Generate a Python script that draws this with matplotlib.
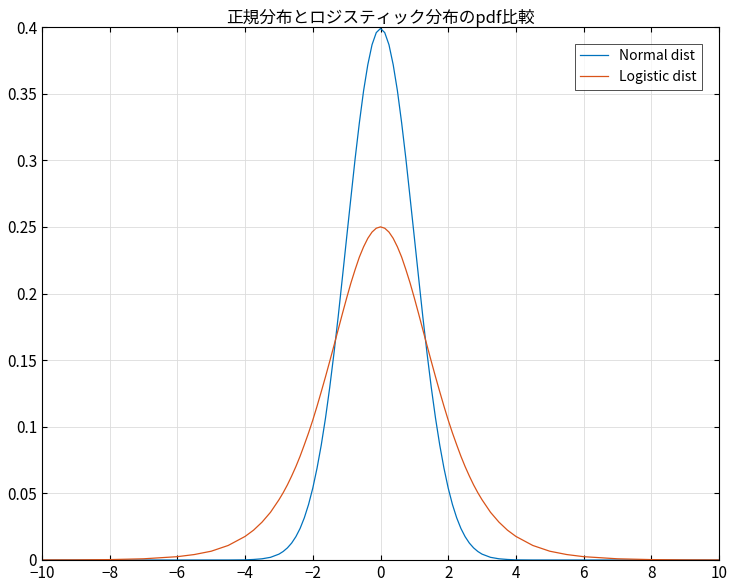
import matplotlib
matplotlib.use("Agg")
import matplotlib.pyplot as plt

plt.rcParams['font.family'] = ['Noto Sans CJK JP', 'DejaVu Sans']

# values (curves are symmetric about 0)
x_half = [0, 0.125, 0.25, 0.375, 0.5, 0.625, 0.75, 0.875, 1, 1.125, 1.25, 1.375, 1.5, 1.625, 1.75, 1.875,
          2, 2.125, 2.25, 2.375, 2.5, 2.625, 2.75, 2.875, 3, 3.25, 3.5, 3.75, 4, 4.5, 5, 5.5, 6, 7, 8, 9, 10]
normal_half = [0.3989, 0.3958, 0.3867, 0.3717, 0.3521, 0.3280, 0.3011, 0.2717, 0.2420, 0.2121, 0.1826,
               0.1551, 0.1295, 0.1065, 0.0863, 0.0689, 0.0540, 0.0417, 0.0317, 0.0237, 0.0175, 0.0127,
               0.0091, 0.0064, 0.0044, 0.0020, 0.0009, 0.0004, 0.0001, 0.0, 0.0, 0.0, 0.0, 0.0, 0.0, 0.0, 0.0]
logistic_half = [0.25, 0.2490, 0.2461, 0.2414, 0.2350, 0.2273, 0.2179, 0.2078, 0.1966, 0.1849, 0.1729,
                 0.1609, 0.1491, 0.1375, 0.1263, 0.1154, 0.1050, 0.0954, 0.0865, 0.0779, 0.0701, 0.0630,
                 0.0564, 0.0505, 0.0452, 0.0358, 0.0284, 0.0224, 0.0177, 0.0109, 0.0066, 0.0041, 0.0025,
                 0.0009, 0.0003, 0.0001, 0.00005]

x = [-v for v in x_half[:0:-1]] + x_half
normal = normal_half[:0:-1] + normal_half
logistic = logistic_half[:0:-1] + logistic_half

fig = plt.figure(figsize=(7.31, 5.87), dpi=100)
ax = fig.add_axes([42/731, 27/587, 677/731, 533/587])
ax.plot(x, normal, color='#0072BD', lw=0.9, label='Normal dist')
ax.plot(x, logistic, color='#D95319', lw=0.9, label='Logistic dist')
ax.set_xlim(-10, 10)
ax.set_ylim(0, 0.4)
ax.set_xticks(range(-10, 11, 2))
ax.set_xticklabels([str(v).replace('-', '−') for v in range(-10, 11, 2)])
ax.set_yticks([0, 0.05, 0.1, 0.15, 0.2, 0.25, 0.3, 0.35, 0.4])
ax.set_yticklabels(['0', '0.05', '0.1', '0.15', '0.2', '0.25', '0.3', '0.35', '0.4'])
ax.grid(True, color='#dcdcdc', lw=0.6)
ax.tick_params(direction='in', labelsize=11, top=True, right=True)
ax.set_title('正規分布とロジスティック分布のpdf比較', fontsize=12, pad=3)
leg = ax.legend(loc='upper right', fontsize=10, fancybox=False, edgecolor='black', borderaxespad=1.2)
leg.get_frame().set_linewidth(0.6)
fig.savefig('out.png', dpi=100)
